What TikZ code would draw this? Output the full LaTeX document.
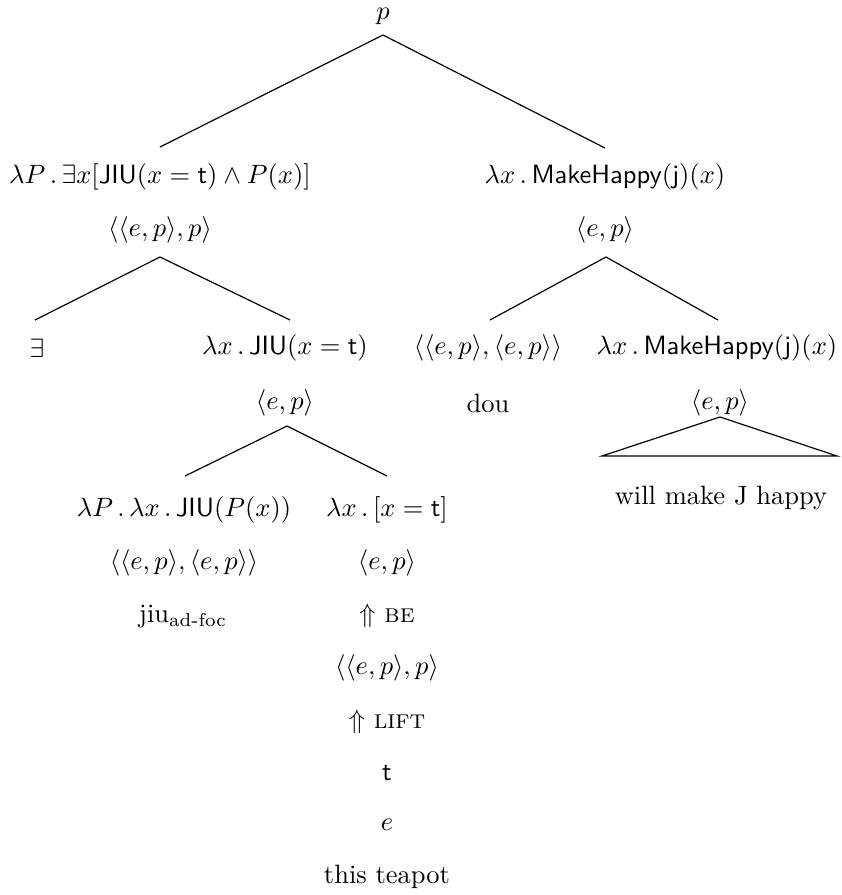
\documentclass[tikz,border=0pt]{standalone}
\usepackage{amsmath}
\usetikzlibrary{calc}
\newcommand{\sfx}[1]{\textsf{#1}}
\newcommand{\dotsep}{\,.\,}
\begin{document}
\begin{tikzpicture}[x=0.3774pt,y=-0.3774pt,
  lab/.style={inner sep=0pt},
  edge/.style={line width=0.45pt}]
\useasboundingbox (0,0) rectangle (842,895);
% nodes
\node[lab] (p) at (383,16) {$p$};
\node[lab] (semL) at (160,177) {$\lambda P\dotsep\exists x[\sfx{JIU}(x=\sfx{t})\wedge P(x)]$};
\node[lab] (typeL) at (160,230) {$\langle\langle e,p\rangle,p\rangle$};
\node[lab] (semR) at (605,177) {$\lambda x\dotsep\sfx{MakeHappy}(\sfx{j})(x)$};
\node[lab] (typeR) at (605,230) {$\langle e,p\rangle$};
\node[lab] (ex) at (37,348) {$\exists$};
\node[lab] (jiuN) at (285,348) {$\lambda x\dotsep\sfx{JIU}(x=\sfx{t})$};
\node[lab] (jiuT) at (285,403) {$\langle e,p\rangle$};
\node[lab] (douT) at (488,348) {$\langle\langle e,p\rangle,\langle e,p\rangle\rangle$};
\node[lab] (dou) at (488,403) {dou};
\node[lab] (mhS) at (717,348) {$\lambda x\dotsep\sfx{MakeHappy}(\sfx{j})(x)$};
\node[lab] (mhT) at (720,403) {$\langle e,p\rangle$};
\node[lab] (will) at (721,498) {will make J happy};
\node[lab] (jiuF) at (184,510) {$\lambda P\dotsep\lambda x\dotsep\sfx{JIU}(P(x))$};
\node[lab] (jiuFT) at (184,563) {$\langle\langle e,p\rangle,\langle e,p\rangle\rangle$};
\node[lab] (jiuW) at (183,617) {jiu$_{\text{ad-foc}}$};
\node[lab] (eqS) at (387,510) {$\lambda x\dotsep[x=\sfx{t}]$};
\node[lab] (eqT) at (387,563) {$\langle e,p\rangle$};
\node[lab] (be) at (387,616) {$\Uparrow$ \textsc{be}};
\node[lab] (liftT) at (387,668) {$\langle\langle e,p\rangle,p\rangle$};
\node[lab] (lift) at (387,722) {$\Uparrow$ \textsc{lift}};
\node[lab] (t) at (387,773) {\sfx{t}};
\node[lab] (e) at (387,825) {$e$};
\node[lab] (teapot) at (387,877) {this teapot};
% connectors
\draw[edge] ($(p)+(0,19)$) -- ($(semL)+(0,-30)$);
\draw[edge] ($(p)+(0,19)$) -- ($(semR)+(0,-29)$);
\draw[edge] ($(typeL)+(0,27)$) -- ($(ex)+(-2,-28)$);
\draw[edge] ($(typeL)+(0,27)$) -- ($(jiuN)+(5,-28)$);
\draw[edge] ($(typeR)+(1,27)$) -- ($(douT)+(2,-28)$);
\draw[edge] ($(typeR)+(1,27)$) -- ($(mhS)+(1,-28)$);
\draw[edge] ($(jiuT)+(2,23)$) -- ($(jiuF)+(1,-34)$);
\draw[edge] ($(jiuT)+(2,23)$) -- ($(eqS)+(0,-34)$);
\draw[edge] ($(mhT)+(0,14)$) -- ($(will)+(-119,-42)$) -- ($(will)+(116,-42)$) -- cycle;
\end{tikzpicture}
\end{document}
